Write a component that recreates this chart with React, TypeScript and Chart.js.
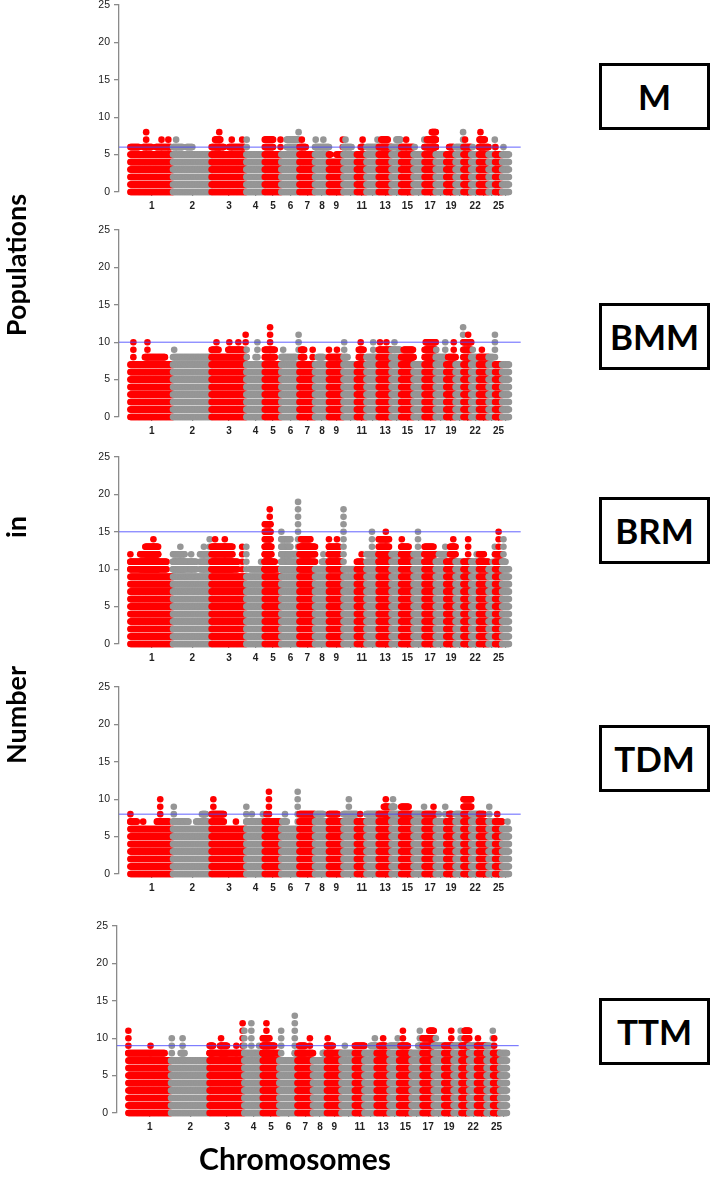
import React, { useEffect, useRef } from 'react';
import { Chart, registerables } from 'chart.js';

Chart.register(...registerables);

// ---------------- DATA ----------------
const CHROMOSOMES = [1, 2, 3, 4, 5, 6, 7, 8, 9, 10, 11, 12, 13, 14, 15, 16, 17, 18, 19, 20, 21, 22, 23, 24, 25, 26];
const CHR_LENGTHS = [275, 249, 224, 119, 107, 117, 100, 90, 94, 86, 62, 79, 83, 62, 80, 71, 72, 68, 60, 51, 50, 50, 62, 42, 45, 44];
const TICK_LABELS = ['1', '2', '3', '4', '5', '6', '7', '8', '9', '', '11', '', '13', '', '15', '', '17', '', '19', '', '', '22', '', '', '25', ''];
const Y_TICKS = [0, 5, 10, 15, 20, 25];

const PANEL_NAMES = ['M', 'BMM', 'BRM', 'TDM', 'TTM'];
const THRESHOLDS = [6, 10, 15, 8, 9];

// solid band height per chromosome
const M_BASE = [5, 5, 5, 5, 5, 5, 5, 5, 4, 5, 5, 5, 5, 5, 5, 5, 5, 5, 5, 5, 5, 5, 5, 5, 5, 5];
const BMM_BASE = [7, 8, 8, 6, 7, 7, 7, 7, 7, 7, 7, 7, 8, 7, 7, 7, 7, 7, 7, 7, 7, 7, 7, 7, 7, 7];
const BRM_BASE = [9, 9, 9, 9, 9, 9, 9, 10, 10, 10, 10, 10, 10, 10, 10, 10, 10, 10, 10, 10, 10, 10, 10, 10, 10, 10];
const TDM_BASE = [6, 6, 6, 6, 6, 6, 6, 6, 6, 6, 6, 6, 6, 6, 6, 6, 6, 6, 6, 6, 6, 6, 6, 6, 6, 6];
const TTM_BASE = [7, 7, 7, 7, 7, 6, 7, 7, 7, 7, 7, 7, 7, 7, 7, 7, 7, 7, 7, 7, 7, 7, 7, 7, 7, 7];

// peaks: [chromosome, from (fraction of chromosome), to (fraction), top value]
const M_PEAKS = [
  [1, 0, 0.2, 6], [1, 0.3, 0.5, 6], [1, 0.6, 0.95, 6], [1, 0.37, 0.37, 8], [1, 0.73, 0.73, 7], [1, 0.89, 0.89, 7],
  [2, 0, 0.25, 6], [2, 0.35, 0.5, 6], [2, 0.08, 0.08, 7],
  [3, 0, 0.35, 6], [3, 0.5, 0.95, 6], [3, 0.1, 0.25, 7], [3, 0.58, 0.58, 7], [3, 0.88, 0.88, 7], [3, 0.22, 0.22, 8],
  [4, 0.02, 0.02, 7],
  [5, 0, 0.5, 7], [5, 0.95, 0.95, 7],
  [6, 0.3, 0.9, 7], [6, 0.95, 0.95, 8],
  [7, 0, 0.4, 6], [7, 0.15, 0.15, 7],
  [8, 0, 1, 6], [8, 0.05, 0.05, 7], [8, 0.6, 0.6, 7],
  [9, 0, 0.1, 5], [9, 0.5, 0.9, 5], [9, 0.95, 0.95, 7],
  [10, 0, 0.6, 6], [10, 0.15, 0.15, 7],
  [11, 0.4, 0.7, 6], [11, 0.6, 0.6, 7],
  [12, 0, 1, 6], [12, 0.9, 0.9, 7],
  [13, 0, 1, 6], [13, 0.2, 0.7, 7],
  [14, 0, 1, 6], [14, 0.5, 0.9, 7],
  [15, 0, 1, 6], [15, 0.4, 0.4, 7],
  [16, 0.1, 0.1, 6], [16, 0.97, 0.97, 7],
  [17, 0, 1, 6], [17, 0.2, 1, 7], [17, 0.65, 1, 8],
  [19, 0.3, 0.8, 6],
  [20, 0, 1, 6], [20, 0.95, 0.95, 8],
  [21, 0, 1, 6], [21, 0.2, 0.2, 7],
  [22, 0.2, 0.2, 6],
  [23, 0, 1, 6], [23, 0.05, 0.6, 7], [23, 0.15, 0.15, 8],
  [24, 0.95, 0.95, 7],
  [25, 0.05, 0.05, 6],
  [26, 0.2, 0.2, 6],
];

const BMM_PEAKS = [
  [1, 0.34, 0.81, 8], [1, 0.07, 0.07, 10], [1, 0.4, 0.4, 10],
  [2, 0.03, 0.03, 9],
  [3, 0, 0.2, 9], [3, 0.48, 0.9, 9], [3, 0.14, 0.14, 10], [3, 0.51, 0.51, 10], [3, 0.77, 0.77, 10], [3, 0.98, 0.98, 11],
  [4, 0, 1, 7], [4, 0.5, 0.5, 8], [4, 0.02, 0.02, 9], [4, 0.6, 0.6, 10],
  [5, 0, 0.6, 9], [5, 0.32, 0.32, 12],
  [6, 0, 0.8, 8], [6, 0.1, 0.1, 9], [6, 0.95, 0.95, 11],
  [7, 0.1, 0.3, 9], [7, 0.85, 0.85, 9],
  [8, 0.2, 0.6, 8],
  [9, 0, 0.9, 8], [9, 0, 0, 9], [9, 0.55, 0.55, 9],
  [10, 0, 0.3, 8], [10, 0.05, 0.05, 10],
  [11, 0.2, 0.7, 9], [11, 0.4, 0.4, 10],
  [12, 0, 1, 8], [12, 0.55, 0.55, 10],
  [13, 0, 1, 9], [13, 0.1, 0.1, 10], [13, 0.6, 0.6, 10],
  [14, 0, 0.9, 9], [14, 0.3, 0.3, 10],
  [15, 0, 1, 8], [15, 0.2, 0.95, 9],
  [17, 0, 1, 9], [17, 0.1, 1, 10],
  [18, 0, 1, 8], [18, 0.05, 0.05, 9], [18, 0.9, 0.9, 10],
  [19, 0.2, 1, 8], [19, 0.8, 0.8, 10],
  [20, 0.95, 0.95, 12],
  [21, 0, 1, 10], [21, 0.6, 0.6, 11],
  [22, 0, 1, 8], [22, 0.2, 0.2, 9],
  [23, 0, 1, 8], [23, 0.3, 0.3, 9],
  [24, 0, 0.7, 8], [24, 0.97, 0.97, 11],
];

const BRM_PEAKS = [
  [1, 0, 0.85, 11], [1, 0, 0, 12], [1, 0.23, 0.65, 12], [1, 0.35, 0.65, 13], [1, 0.54, 0.54, 14],
  [2, 0, 0.6, 11], [2, 0, 0.3, 12], [2, 0.47, 0.47, 12], [2, 0.19, 0.19, 13], [2, 0.7, 0.95, 12], [2, 0.8, 0.8, 13], [2, 0.95, 0.95, 14],
  [3, 0, 0.75, 11], [3, 0, 0.6, 13], [3, 0.1, 0.1, 14], [3, 0.38, 0.38, 14], [3, 0.88, 0.88, 13],
  [4, 0.2, 1, 10], [4, 0, 0, 13], [4, 0.8, 0.8, 11],
  [5, 0, 0.8, 10], [5, 0, 0.6, 11], [5, 0, 0.4, 13], [5, 0, 0.35, 16], [5, 0.3, 0.3, 18],
  [6, 0, 1, 10], [6, 0, 0.85, 12], [6, 0, 0.5, 14], [6, 0, 0, 15], [6, 0.92, 0.92, 19],
  [7, 0, 1, 13], [7, 0.1, 0.7, 14],
  [8, 0.5, 1, 11], [8, 0.6, 0.6, 12],
  [9, 0, 0.9, 11], [9, 0, 0.7, 13], [9, 0, 0, 14], [9, 0.55, 0.55, 14],
  [10, 0, 0, 18],
  [11, 0, 0.6, 11], [11, 0.5, 0.5, 12],
  [12, 0, 1, 12], [12, 0.45, 0.45, 15],
  [13, 0, 1, 12], [13, 0, 0.8, 14], [13, 0.55, 0.55, 15],
  [14, 0, 0.8, 12],
  [15, 0, 1, 12], [15, 0, 0.6, 13], [15, 0.05, 0.05, 14],
  [16, 0, 0.7, 12], [16, 0.4, 0.4, 15],
  [17, 0, 1, 12], [17, 0, 0.8, 13],
  [18, 0, 1, 11], [18, 0.3, 1, 12], [18, 0.9, 0.9, 13],
  [19, 0, 1, 11], [19, 0.4, 1, 13], [19, 0.75, 0.75, 14],
  [20, 0, 1, 11],
  [21, 0, 1, 11], [21, 0.6, 0.6, 14],
  [22, 0, 1, 11], [22, 0.7, 0.7, 12],
  [23, 0, 1, 11], [23, 0, 0.5, 12],
  [24, 0.6, 0.6, 11], [24, 0.95, 0.95, 13],
  [25, 0, 1, 12], [25, 0.5, 0.5, 15],
  [26, 0, 0.5, 11], [26, 0.2, 0.2, 14],
];

const TDM_PEAKS = [
  [1, 0, 0.15, 7], [1, 0.3, 0.3, 7], [1, 0.62, 0.9, 7], [1, 0, 0, 8], [1, 0.7, 0.7, 10],
  [2, 0, 0.4, 7], [2, 0.6, 0.9, 7], [2, 0.75, 0.85, 8], [2, 0.02, 0.02, 9],
  [3, 0, 0.35, 8], [3, 0.05, 0.05, 10], [3, 0.7, 0.7, 7],
  [4, 0, 1, 7], [4, 0, 0, 9], [4, 0.3, 0.3, 8], [4, 0.9, 0.9, 8],
  [5, 0, 0.9, 7], [5, 0.1, 0.1, 8], [5, 0.25, 0.25, 11],
  [6, 0.05, 0.3, 7], [6, 0.2, 0.2, 8], [6, 0.9, 0.9, 11],
  [7, 0, 1, 8],
  [8, 0, 1, 7], [8, 0.1, 0.6, 8],
  [9, 0, 1, 7], [9, 0, 0.6, 8],
  [10, 0, 1, 8], [10, 0.4, 0.4, 10],
  [11, 0, 1, 7], [11, 0.35, 0.35, 8],
  [12, 0, 1, 8],
  [13, 0, 1, 8], [13, 0.4, 0.8, 9], [13, 0.55, 0.55, 10],
  [14, 0, 1, 8], [14, 0, 0.3, 9], [14, 0.15, 0.15, 10],
  [15, 0, 1, 8], [15, 0, 0.6, 9],
  [16, 0, 1, 7], [16, 0.1, 0.9, 8], [16, 0.95, 0.95, 9],
  [17, 0, 1, 8], [17, 0.8, 0.8, 9],
  [18, 0, 1, 7], [18, 0.3, 0.3, 8], [18, 0.9, 0.9, 9],
  [19, 0, 1, 7], [19, 0.3, 0.6, 8],
  [20, 0, 1, 8],
  [21, 0, 1, 10],
  [22, 0, 1, 8],
  [23, 0, 1, 7], [23, 0, 0.5, 8],
  [24, 0, 1, 7], [24, 0.1, 0.1, 9],
  [25, 0, 1, 7], [25, 0.3, 0.3, 8],
  [26, 0.8, 0.8, 7],
];

const TTM_PEAKS = [
  [1, 0, 0.85, 8], [1, 0, 0, 11], [1, 0.52, 0.52, 9],
  [2, 0.25, 0.35, 8], [2, 0.02, 0.02, 10], [2, 0.3, 0.3, 10],
  [3, 0, 1, 8], [3, 0, 0.1, 9], [3, 0.3, 0.5, 9], [3, 0.33, 0.33, 10], [3, 0.77, 0.77, 9], [3, 0.95, 0.95, 12],
  [4, 0, 1, 8], [4, 0, 0, 11], [4, 0.38, 0.38, 12], [4, 0.8, 0.8, 9],
  [5, 0, 1, 8], [5, 0, 0.7, 9], [5, 0, 0.4, 10], [5, 0.22, 0.22, 12],
  [6, 0, 0.7, 7], [6, 0.1, 0.1, 11], [6, 0.85, 1, 8], [6, 0.85, 0.85, 13],
  [7, 0, 1, 8], [7, 0.1, 0.5, 9], [7, 0.8, 0.8, 10],
  [8, 0.7, 1, 8],
  [9, 0, 1, 8], [9, 0, 0.4, 9], [9, 0.05, 0.05, 10],
  [10, 0, 1, 8], [10, 0.25, 0.25, 9],
  [11, 0, 1, 9],
  [12, 0, 1, 8], [12, 0.5, 1, 9], [12, 0.85, 0.85, 10],
  [13, 0, 1, 8], [13, 0.2, 0.7, 9], [13, 0.5, 0.5, 10],
  [14, 0, 1, 9], [14, 0.85, 0.85, 10],
  [15, 0, 1, 8], [15, 0.1, 0.7, 9], [15, 0.3, 0.3, 11],
  [16, 0, 1, 8], [16, 0.6, 0.9, 9], [16, 0.75, 0.75, 11],
  [17, 0, 1, 10], [17, 0.6, 1, 11],
  [18, 0, 1, 9], [18, 0.2, 0.2, 10],
  [19, 0, 1, 9], [19, 0.75, 0.75, 11],
  [20, 0, 1, 9], [20, 0.9, 0.9, 11],
  [21, 0, 1, 9], [21, 0.4, 1, 11],
  [22, 0, 1, 9],
  [23, 0, 1, 9], [23, 0.1, 0.1, 10],
  [24, 0, 1, 8], [24, 0, 0.5, 9], [24, 0.95, 0.95, 11],
  [25, 0, 1, 8], [25, 0.15, 0.15, 10],
  [26, 0, 1, 8],
];

const PANEL_BASES = [M_BASE, BMM_BASE, BRM_BASE, TDM_BASE, TTM_BASE];
const PANEL_PEAKS = [M_PEAKS, BMM_PEAKS, BRM_PEAKS, TDM_PEAKS, TTM_PEAKS];

// ---------------- STYLE / LAYOUT ----------------
const RED = '#ff0000';
const GRAY = '#969696';
const LINE_BLUE = 'rgba(70,70,255,0.85)';
const AXIS_GRAY = '#8a8a8a';
const TEXT_DARK = '#222222';

const X_MIN = -73.5;
const X_MAX = 2518;
const STEP = 4;
const DOT_R = 3.3;

const PANEL_BOTTOMS = [191.7, 417.4, 644.1, 874.1, 1113.3];
const PANEL_SHIFT = [0, 0, -0.5, 0, -2.5];
const PLOT_H = 187;
const PAD_TOP = 12;
const X_AXIS_H = 30;
const CANVAS_W = 540;
const AXIS_LEFT = 119;
const PLOT_RIGHT = 520.7;

const BOX_CENTERS = [96.5, 336, 530, 758, 1031];

function chrStarts() {
  const s: number[] = [];
  let acc = 0;
  CHR_LENGTHS.forEach((l) => {
    s.push(acc);
    acc += l;
  });
  return s;
}

function buildDatasets(base: number[], peaks: number[][], threshold: number) {
  const starts = chrStarts();
  const sets: any[] = CHROMOSOMES.map((c, i) => {
    const start = starts[i];
    const len = CHR_LENGTHS[i];
    const pts: { x: number; y: number }[] = [];
    const nBase = Math.round(len / STEP);
    for (let k = 0; k <= nBase; k++) {
      const x = start + (len * k) / nBase;
      for (let y = 0; y <= base[i]; y++) pts.push({ x, y });
    }
    peaks
      .filter((p) => p[0] === c)
      .forEach((p) => {
        const x0 = start + p[1] * len;
        const x1 = start + p[2] * len;
        const n = Math.max(0, Math.round((x1 - x0) / STEP));
        for (let k = 0; k <= n; k++) {
          const x = n ? x0 + ((x1 - x0) * k) / n : x0;
          for (let y = base[i] + 1; y <= p[3]; y++) pts.push({ x, y });
        }
      });
    return {
      type: 'scatter',
      label: 'Chr' + c,
      data: pts,
      backgroundColor: i % 2 === 0 ? RED : GRAY,
      borderWidth: 0,
      pointRadius: DOT_R,
      pointHoverRadius: DOT_R,
      clip: false,
      order: 100 - i,
    };
  });
  sets.push({
    type: 'line',
    label: 'threshold',
    data: [
      { x: X_MIN, y: threshold },
      { x: X_MAX, y: threshold },
    ],
    borderColor: LINE_BLUE,
    borderWidth: 1,
    pointRadius: 0,
    fill: false,
    clip: false,
    order: 0,
  });
  return sets;
}

function Panel({ index }: { index: number }) {
  const ref = useRef<HTMLCanvasElement | null>(null);
  useEffect(() => {
    if (!ref.current) return;
    const starts = chrStarts();
    const centers = CHROMOSOMES.map((_, i) => starts[i] + CHR_LENGTHS[i] / 2);
    const chart = new Chart(ref.current, {
      type: 'scatter',
      data: { datasets: buildDatasets(PANEL_BASES[index], PANEL_PEAKS[index], THRESHOLDS[index]) },
      options: {
        animation: false,
        responsive: false,
        events: [],
        layout: { padding: { top: PAD_TOP, left: 0, right: CANVAS_W - PLOT_RIGHT, bottom: 0 } },
        plugins: { legend: { display: false }, tooltip: { enabled: false }, title: { display: false } },
        scales: {
          x: {
            type: 'linear',
            min: X_MIN,
            max: X_MAX,
            afterBuildTicks: (s: any) => {
              s.ticks = centers.map((v) => ({ value: v }));
            },
            afterFit: (s: any) => {
              s.height = X_AXIS_H;
            },
            ticks: {
              autoSkip: false,
              maxRotation: 0,
              minRotation: 0,
              padding: 4,
              color: TEXT_DARK,
              font: { family: "'Liberation Sans', Arial, sans-serif", size: 10, weight: 'bold' },
              callback: (_v: any, idx: number) => TICK_LABELS[idx],
            },
            grid: { drawOnChartArea: false, drawTicks: true, tickLength: 4, color: AXIS_GRAY, lineWidth: 1.2 },
            border: { display: false },
          },
          y: {
            type: 'linear',
            min: 0,
            max: 25,
            afterBuildTicks: (s: any) => {
              s.ticks = Y_TICKS.map((v) => ({ value: v }));
            },
            afterFit: (s: any) => {
              s.width = AXIS_LEFT;
            },
            ticks: {
              padding: 4,
              color: TEXT_DARK,
              font: { family: "'Liberation Sans', Arial, sans-serif", size: 10.5 },
              callback: (v: any) => String(v),
            },
            grid: { drawOnChartArea: false, drawTicks: true, tickLength: 5, color: AXIS_GRAY, lineWidth: 1.3 },
            border: { display: true, color: AXIS_GRAY, width: 1.3 },
          },
        },
      } as any,
    });
    return () => chart.destroy();
  }, [index]);

  const top = PANEL_BOTTOMS[index] - PLOT_H - PAD_TOP;
  const h = PAD_TOP + PLOT_H + X_AXIS_H;
  return (
    <canvas
      ref={ref}
      width={CANVAS_W}
      height={h}
      style={{ position: 'absolute', left: PANEL_SHIFT[index], top, width: CANVAS_W, height: h, display: 'block' }}
    />
  );
}

const LABEL_FONT = "Lato, 'Open Sans', 'Noto Sans', sans-serif";

function Box({ index }: { index: number }) {
  return (
    <div
      style={{
        position: 'absolute',
        left: 599,
        top: BOX_CENTERS[index] - 33.5,
        width: 111,
        height: 67,
        boxSizing: 'border-box',
        border: '3px solid #000',
        display: 'flex',
        alignItems: 'center',
        justifyContent: 'center',
        fontFamily: LABEL_FONT,
        fontWeight: 'bold',
        fontSize: 35,
        lineHeight: '35px',
        color: '#000',
        background: '#fff',
      }}
    >
      {PANEL_NAMES[index]}
    </div>
  );
}

function RotLabel({ text, cx, cy }: { text: string; cx: number; cy: number }) {
  return (
    <div
      style={{
        position: 'absolute',
        left: cx,
        top: cy,
        transform: 'translate(-50%, -50%) rotate(-90deg)',
        whiteSpace: 'nowrap',
        fontFamily: LABEL_FONT,
        fontWeight: 'bold',
        fontSize: 27,
        lineHeight: '27px',
        color: '#000',
      }}
    >
      {text}
    </div>
  );
}

export default function App() {
  return (
    <div style={{ position: 'absolute', left: 0, top: 0, width: 711, height: 1181, background: '#fff', overflow: 'hidden' }}>
      {PANEL_NAMES.map((_, i) => (
        <Panel key={'p' + i} index={i} />
      ))}
      {PANEL_NAMES.map((_, i) => (
        <Box key={'b' + i} index={i} />
      ))}
      <RotLabel text="Populations" cx={14.6} cy={265} />
      <RotLabel text="in" cx={14.6} cy={527} />
      <RotLabel text="Number" cx={14.6} cy={715} />
      <div
        style={{
          position: 'absolute',
          left: 295,
          top: 1158,
          transform: 'translate(-50%, -50%)',
          whiteSpace: 'nowrap',
          fontFamily: LABEL_FONT,
          fontWeight: 'bold',
          fontSize: 30,
          lineHeight: '30px',
          color: '#000',
        }}
      >
        Chromosomes
      </div>
    </div>
  );
}
